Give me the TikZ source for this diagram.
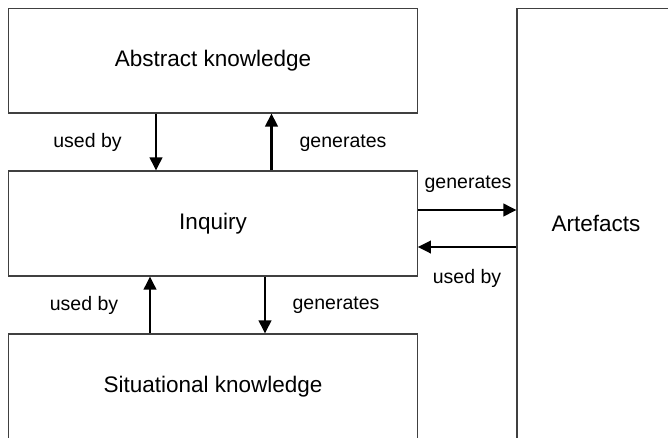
\documentclass[tikz,border=0pt]{standalone}
\usepackage{fontspec}
\setmainfont{Liberation Sans}
\usetikzlibrary{arrows.meta}

\tikzset{
  box/.style={draw=black!75, line width=1.1pt, rectangle, inner sep=0pt,
    font=\fontsize{22.5}{27}\selectfont},
  lbl/.style={inner sep=0pt, font=\fontsize{19.5}{23}\selectfont},
  arr/.style={draw=black, line width=2.2pt,
    -{Triangle[length=13pt, width=12.5pt]}},
}

\begin{document}
\begin{tikzpicture}[x=1pt, y=-1pt]
  \useasboundingbox (0,0) rectangle (668,437);
  \clip (0,0) rectangle (668,437);

  % knowledge and inquiry blocks
  \node[box, minimum width=408.6pt, minimum height=104.3pt] (abstract) at (213,60.8) {Abstract knowledge};
  \node[box, minimum width=408.6pt, minimum height=105pt] (inquiry) at (213,223.5) {Inquiry};
  \node[box, minimum width=408.6pt, minimum height=106pt] (situational) at (213,387) {Situational knowledge};
  % artefacts column runs past the right and bottom edges
  \node[box, minimum width=158pt, minimum height=429.6pt] (artefacts) at (596,223.5) {Artefacts};

  % vertical links
  \draw[arr] (abstract.south -| 156,0) -- (inquiry.north -| 156,0);
  \draw[arr] (inquiry.north -| 271.5,0) -- (abstract.south -| 271.5,0);
  \draw[arr] (situational.north -| 150,0) -- (inquiry.south -| 150,0);
  \draw[arr] (inquiry.south -| 265,0) -- (situational.north -| 265,0);

  % horizontal links
  \draw[arr] (inquiry.east |- 0,210) -- (artefacts.west |- 0,210);
  \draw[arr] (artefacts.west |- 0,247) -- (inquiry.east |- 0,247);

  % link labels
  \node[lbl] (l1) at (87.5,142) {used by};
  \node[lbl] (l2) at (343,143) {generates};
  \node[lbl] (l3) at (468,184) {generates};
  \node[lbl] (l4) at (467,278) {used by};
  \node[lbl] (l5) at (84,305) {used by};
  \node[lbl] (l6) at (336,305) {generates};
\end{tikzpicture}
\end{document}
